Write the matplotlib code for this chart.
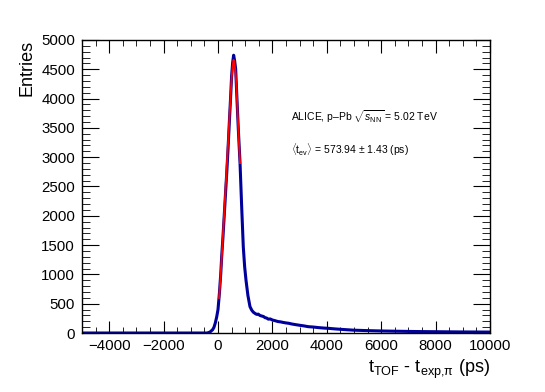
#!/usr/bin/env python3

'''
TOF time difference distribution with gaussian fit of the peak
'''

import matplotlib.pyplot as plt
from matplotlib.ticker import MultipleLocator

# histogram (bin centres in ps, entries)
tof_x = [-5000, -400, -300, -200, -150, -100, -50, 0, 50, 100, 135, 180, 220, 270,
         320, 370, 415, 460, 500, 540, 575, 610, 650, 700, 750, 810, 870, 930,
         980, 1030, 1100, 1176, 1240, 1300, 1360, 1420, 1480, 1540, 1605, 1670,
         1730, 1790, 1850, 1920, 2000, 2100, 2200, 2300, 2400, 2500, 2600, 2710,
         2850, 3000, 3150, 3320, 3500, 3700, 3900, 4055, 4300, 4600, 5000, 5400,
         5800, 6200, 6600, 7000, 7500, 8000, 8500, 9000, 9500, 10000]
entries = [0, 0, 15, 55, 95, 170, 270, 400, 670, 1000, 1300, 1620, 1930, 2330,
           2720, 3150, 3580, 3990, 4380, 4620, 4740, 4650, 4500, 3960, 3450, 2900,
           2160, 1470, 1130, 900, 640, 450, 390, 355, 335, 318, 322, 300, 290,
           282, 262, 255, 236, 240, 222, 210, 196, 190, 180, 172, 166, 154, 143,
           132, 122, 108, 102, 92, 84, 80, 70, 60, 48, 42, 37, 33, 30, 27, 24, 22,
           20, 18, 17, 16]

# gaussian fit curve around the peak
fit_x = [40, 100, 150, 200, 250, 300, 350, 400, 450, 500, 540, 574, 610, 650,
         690, 720, 760, 810]
fit_y = [600, 1000, 1400, 1820, 2230, 2650, 3080, 3500, 3930, 4350, 4560, 4660,
         4580, 4420, 4100, 3750, 3350, 2900]

plt.rcParams['font.family'] = ['Liberation Sans', 'DejaVu Sans']
plt.rcParams['mathtext.fontset'] = 'custom'
plt.rcParams['mathtext.rm'] = 'Liberation Sans'
plt.rcParams['mathtext.it'] = 'Liberation Sans:italic'

fig = plt.figure(figsize=(5.45, 3.92), dpi=100)
ax = fig.add_axes([0.1505, 0.1505, 0.7485, 0.7475])

ax.plot(tof_x, entries, color='#00009c', lw=2.2, solid_joinstyle='round')
ax.plot(fit_x, fit_y, color='#ff0000', lw=1.4)

ax.set_xlim(-5000, 10000)
ax.set_ylim(0, 5000)
ax.xaxis.set_major_locator(MultipleLocator(2000))
ax.xaxis.set_minor_locator(MultipleLocator(500))
ax.yaxis.set_major_locator(MultipleLocator(500))
ax.yaxis.set_minor_locator(MultipleLocator(100))
ax.tick_params(which='both', direction='in', top=True, right=True, labelsize=10.8)
ax.tick_params(axis='y', which='major', length=12, pad=5)
ax.tick_params(axis='y', which='minor', length=6)
ax.tick_params(axis='x', which='major', length=9, pad=4)
ax.tick_params(axis='x', which='minor', length=4.5)
for s in ax.spines.values():
    s.set_linewidth(1.0)

ax.set_ylabel('Entries', fontsize=13, loc='top', labelpad=4)
ax.set_xlabel(r'$\mathrm{t_{TOF}}$ - $\mathrm{t_{exp{,}\pi}}$ (ps)', fontsize=13,
              loc='right', labelpad=4)

ax.text(0.513, 0.738, r'ALICE, p–Pb $\sqrt{s_{\mathrm{NN}}}$ = 5.02 TeV',
        transform=ax.transAxes, fontsize=7.5, va='center')
ax.text(0.513, 0.626, r'$\langle\mathrm{t_{ev}}\rangle$ = 573.94 $\pm$ 1.43 (ps)',
        transform=ax.transAxes, fontsize=7.5, va='center')

plt.savefig('out.png', dpi=100)
